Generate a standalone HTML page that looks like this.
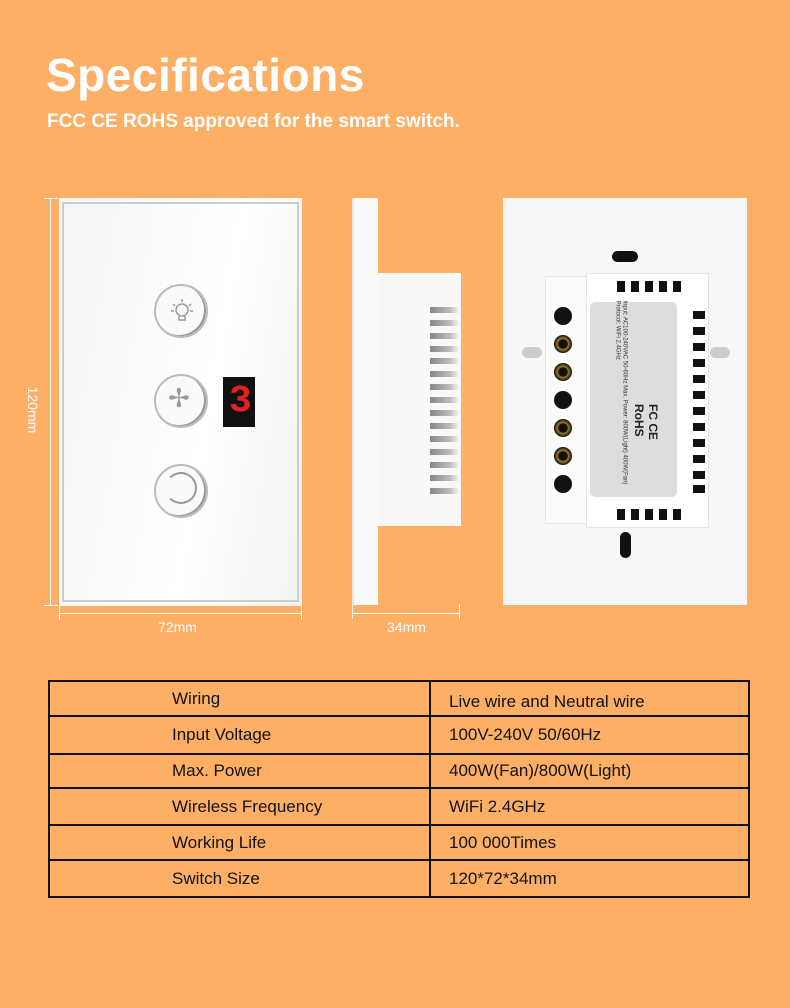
<!DOCTYPE html>
<html><head><meta charset="utf-8"><style>
*{margin:0;padding:0;box-sizing:border-box}
body{width:790px;height:1008px;background:#feaf66;position:relative;overflow:hidden;font-family:"Liberation Sans",sans-serif}
.a{position:absolute}
.t{color:#fff;font-weight:bold}
.btn{position:absolute;width:54px;height:54px;border-radius:50%;border:2px solid #bbb;background:#fafafa;box-shadow:inset -2px -1px 0 #999}
.vent{position:absolute;left:430px;width:28px;height:6px;background:linear-gradient(90deg,#888,#bbb 70%,#eee)}
.sq{position:absolute;width:8px;height:11px;background:#111}
.sq2{position:absolute;width:12px;height:8px;background:#111}
.term{position:absolute;left:554px;width:18px;height:18px;border-radius:50%;background:#111}
.term.y{background:radial-gradient(#111 35%,#a08030 40%,#111 70%)}
table{position:absolute;left:48px;top:680px;width:702px;border-collapse:collapse;font-size:17px;color:#111}
td{border:2px solid #111;padding:0}
td.l{width:381px;padding-left:122px}
td.r{padding-left:18px}
</style></head><body>
<div class="a t" style="left:46px;top:48px;font-size:46px;letter-spacing:0.5px">Specifications</div>
<div class="a t" style="left:47px;top:111px;font-size:19px">FCC CE ROHS approved for the smart switch.</div>

<div class="a" style="left:50px;top:198px;width:1px;height:408px;background:#fff"></div>
<div class="a" style="left:44px;top:198px;width:14px;height:1px;background:#fff"></div>
<div class="a" style="left:44px;top:605px;width:14px;height:1px;background:#fff"></div>
<div class="a t" style="left:22px;top:402px;font-size:14px;font-weight:normal;transform:rotate(90deg);transform-origin:center;width:50px;text-align:center;margin-left:-14px">120mm</div>
<div class="a" style="left:59px;top:613px;width:243px;height:1px;background:#fff"></div>
<div class="a" style="left:59px;top:606px;width:1px;height:14px;background:#fff"></div>
<div class="a" style="left:301px;top:606px;width:1px;height:14px;background:#fff"></div>
<div class="a" style="left:158px;top:619px;color:#fff;font-size:14px">72mm</div>
<div class="a" style="left:352px;top:613px;width:107px;height:1px;background:#fff"></div>
<div class="a" style="left:352px;top:604px;width:1px;height:15px;background:#fff"></div>
<div class="a" style="left:459px;top:604px;width:1px;height:15px;background:#fff"></div>
<div class="a" style="left:387px;top:619px;color:#fff;font-size:14px">34mm</div>

<div class="a" style="left:59px;top:198px;width:243px;height:408px;background:linear-gradient(100deg,#f6f6f6,#fff 60%,#f3f3f3)"></div>
<div class="a" style="left:62px;top:202px;width:237px;height:400px;border:2px solid #ccc"></div>
<div class="btn" style="left:154px;top:284px"></div>
<svg class="a" style="left:168px;top:296px" width="28" height="30" viewBox="0 0 28 30"><g stroke="#999" stroke-width="1.5" fill="none"><circle cx="14" cy="14" r="6"/><path d="M11 20v4h6v-4"/><path d="M14 3v3M5 8l2 2M23 8l-2 2M3 15h3M22 15h3"/></g></svg>
<div class="btn" style="left:154px;top:374px"></div>
<div class="a" style="left:168px;top:383px;font-size:26px;color:#999">✢</div>
<div class="btn" style="left:154px;top:464px"></div>
<div class="a" style="left:165px;top:472px;width:32px;height:32px;border-radius:50%;border:2px solid #999;border-left-color:transparent"></div>
<div class="a" style="left:223px;top:377px;width:32px;height:50px;background:#111"></div>
<div class="a" style="left:229px;top:383px;color:#e52020;font:bold 38px 'Liberation Mono',monospace;line-height:38px">3</div>

<div class="a" style="left:352px;top:198px;width:26px;height:407px;background:#fafafa;border-left:2px solid #e5e5e5"></div>
<div class="a" style="left:378px;top:273px;width:83px;height:253px;background:#f8f8f8"></div>
<div class="vent" style="top:307px"></div><div class="vent" style="top:320px"></div><div class="vent" style="top:333px"></div><div class="vent" style="top:346px"></div><div class="vent" style="top:358px"></div><div class="vent" style="top:371px"></div><div class="vent" style="top:384px"></div><div class="vent" style="top:397px"></div><div class="vent" style="top:410px"></div><div class="vent" style="top:423px"></div><div class="vent" style="top:436px"></div><div class="vent" style="top:449px"></div><div class="vent" style="top:462px"></div><div class="vent" style="top:475px"></div><div class="vent" style="top:488px"></div>

<div class="a" style="left:503px;top:198px;width:244px;height:407px;background:#f7f7f7"></div>
<div class="a" style="left:612px;top:251px;width:26px;height:11px;border-radius:6px;background:#111"></div>
<div class="a" style="left:620px;top:532px;width:11px;height:26px;border-radius:6px;background:#111"></div>
<div class="a" style="left:522px;top:347px;width:20px;height:11px;border-radius:6px;background:#ccc"></div>
<div class="a" style="left:710px;top:347px;width:20px;height:11px;border-radius:6px;background:#ccc"></div>
<div class="a" style="left:545px;top:276px;width:45px;height:248px;background:#fbfbfb;border:1px solid #e5e5e5"></div>
<div class="a" style="left:586px;top:273px;width:123px;height:255px;background:#fff;border:1px solid #e5e5e5"></div>
<div class="term" style="top:307px"></div><div class="term y" style="top:335px"></div><div class="term y" style="top:363px"></div><div class="term" style="top:391px"></div><div class="term y" style="top:419px"></div><div class="term y" style="top:447px"></div><div class="term" style="top:475px"></div>
<div class="sq" style="left:617px;top:281px"></div><div class="sq" style="left:631px;top:281px"></div><div class="sq" style="left:645px;top:281px"></div><div class="sq" style="left:659px;top:281px"></div><div class="sq" style="left:673px;top:281px"></div>
<div class="sq" style="left:617px;top:509px"></div><div class="sq" style="left:631px;top:509px"></div><div class="sq" style="left:645px;top:509px"></div><div class="sq" style="left:659px;top:509px"></div><div class="sq" style="left:673px;top:509px"></div>
<div class="sq2" style="left:693px;top:311px"></div><div class="sq2" style="left:693px;top:327px"></div><div class="sq2" style="left:693px;top:343px"></div><div class="sq2" style="left:693px;top:359px"></div><div class="sq2" style="left:693px;top:375px"></div><div class="sq2" style="left:693px;top:391px"></div><div class="sq2" style="left:693px;top:407px"></div><div class="sq2" style="left:693px;top:423px"></div><div class="sq2" style="left:693px;top:439px"></div><div class="sq2" style="left:693px;top:455px"></div><div class="sq2" style="left:693px;top:471px"></div><div class="sq2" style="left:693px;top:485px"></div>
<div class="a" style="left:590px;top:302px;width:87px;height:195px;background:#ddd;border-radius:5px"></div>
<div class="a" style="left:520px;top:388px;width:195px;height:20px;transform:rotate(90deg);font-size:6px;color:#333;line-height:7px">Input: AC100-240VAC 50-60Hz Max. Power: 800W(Light) 400W(Fan) Protocol: WiFi 2.4GHz</div>
<div class="a" style="left:616px;top:420px;width:60px;transform:rotate(90deg);font-size:12px;color:#222;font-weight:bold">FC CE RoHS</div>

<table>
<tr style="height:35px"><td class="l">Wiring</td><td class="r" style="padding-top:6px">Live wire and Neutral wire</td></tr>
<tr style="height:38px"><td class="l">Input Voltage</td><td class="r">100V-240V 50/60Hz</td></tr>
<tr style="height:34px"><td class="l">Max. Power</td><td class="r">400W(Fan)/800W(Light)</td></tr>
<tr style="height:37px"><td class="l">Wireless Frequency</td><td class="r">WiFi 2.4GHz</td></tr>
<tr style="height:35px"><td class="l">Working Life</td><td class="r">100 000Times</td></tr>
<tr style="height:37px"><td class="l">Switch Size</td><td class="r">120*72*34mm</td></tr>
</table>
</body></html>
